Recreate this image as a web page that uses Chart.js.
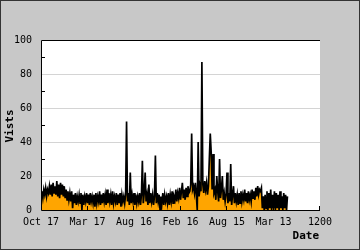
<!DOCTYPE html>
<html>
<head>
<meta charset="utf-8">
<script src="https://cdn.jsdelivr.net/npm/chart.js@4/dist/chart.umd.min.js"></script>
<style>
  html, body { margin: 0; padding: 0; background: #c8c8c8; }
  canvas { display: block; }
</style>
</head>
<body>
<canvas id="chart" width="360" height="250"></canvas>
<script>
// x axis ticks, every 200 entries
const tickLabels = ['Oct 17', 'Mar 17', 'Aug 16', 'Feb 16', 'Aug 15', 'Mar 13', '1200'];
const step = 4; // one value read per 4 entries

// visits
const visits = [
    8, 11, 7, 12, 9, 13, 8, 12, 10, 14,
    9, 15, 8, 16, 10, 14, 9, 17, 8, 15,
    7, 16, 9, 15, 8, 14, 7, 12, 6, 11,
    6, 10, 5, 11, 1, 9, 4, 10, 3, 8,
    5, 9, 4, 10, 0, 9, 3, 8, 5, 10,
    4, 9, 3, 10, 5, 8, 4, 9, 2, 10,
    4, 8, 5, 11, 3, 9, 4, 10, 5, 9,
    3, 12, 4, 10, 5, 9, 3, 11, 4, 8,
    5, 10, 3, 9, 4, 10, 2, 9, 5, 8,
    4, 9, 52, 5, 10, 3, 22, 4, 9, 5,
    10, 3, 9, 4, 8, 5, 10, 3, 9, 29,
    4, 10, 22, 5, 9, 3, 15, 4, 10, 5,
    9, 3, 8, 32, 4, 10, 5, 9, 0, 8,
    4, 10, 3, 9, 5, 8, 4, 10, 3, 9,
    5, 11, 4, 8, 6, 12, 5, 10, 7, 13,
    6, 11, 16, 7, 12, 6, 13, 8, 14, 10,
    11, 15, 45, 12, 14, 10, 16, 9, 0, 40,
    8, 14, 11, 87, 15, 10, 17, 12, 16, 9,
    14, 30, 45, 34, 12, 33, 10, 12, 6, 20,
    11, 5, 30, 7, 12, 20, 6, 10, 5, 9,
    22, 4, 10, 5, 27, 3, 9, 14, 4, 10,
    5, 9, 3, 10, 4, 11, 5, 9, 6, 12,
    5, 10, 4, 11, 6, 9, 5, 12, 7, 11,
    6, 13, 8, 14, 9, 12, 11, 13, 1, 8,
    0, 9, 1, 11, 0, 10, 1, 12, 0, 9,
    1, 11, 0, 10, 1, 9, 0, 11, 1, 8,
    0, 10, 1, 9, 0, 8
];

const mono = 'DejaVu Sans Mono';

// frame, inner tick marks and axis titles
const decor = {
    id: 'decor',
    beforeDraw(chart) {
        const { ctx, chartArea: a } = chart;
        ctx.save();
        ctx.fillStyle = '#c8c8c8';
        ctx.fillRect(0, 0, chart.width, chart.height);
        ctx.fillStyle = '#fff';
        ctx.fillRect(a.left, a.top, a.right - a.left, a.bottom - a.top);
        ctx.restore();
    },
    afterDraw(chart) {
        const { ctx, chartArea: a, scales } = chart;
        ctx.save();
        ctx.strokeStyle = '#000';
        ctx.lineWidth = 1;
        ctx.beginPath();
        ctx.moveTo(a.right, a.top + 0.5);
        ctx.lineTo(a.left + 0.5, a.top + 0.5);
        ctx.lineTo(a.left + 0.5, a.bottom + 0.5);
        ctx.lineTo(a.right, a.bottom + 0.5);
        // minor y ticks
        for (let v = 10; v < 100; v += 20) {
            const y = Math.round(scales.y.getPixelForValue(v)) + 0.5;
            ctx.moveTo(a.left, y);
            ctx.lineTo(a.left + 4, y);
        }
        // x ticks
        for (let v = 200; v <= 1200; v += 200) {
            const x = Math.round(scales.x.getPixelForValue(v)) - 0.5;
            ctx.moveTo(x, a.bottom);
            ctx.lineTo(x, a.bottom - 4);
        }
        ctx.stroke();

        // outer border
        ctx.strokeStyle = '#333';
        ctx.strokeRect(0.5, 0.5, chart.width - 1, chart.height - 1);

        ctx.fillStyle = '#000';
        ctx.font = 'bold 11px ' + mono;
        ctx.textAlign = 'right';
        ctx.textBaseline = 'middle';
        ctx.fillText('Date', 319, 236);
        ctx.translate(10, 126);
        ctx.rotate(-Math.PI / 2);
        ctx.textAlign = 'center';
        ctx.fillText('Vists', 0, 0);
        ctx.restore();
    }
};

new Chart(document.getElementById('chart'), {
    type: 'line',
    data: {
        datasets: [{
            data: visits.map((v, i) => ({ x: i * step, y: v })),
            borderColor: '#000',
            borderWidth: 1.7,
            backgroundColor: '#ffa500',
            fill: 'origin',
            pointRadius: 0,
            tension: 0
        }]
    },
    options: {
        responsive: false,
        animation: false,
        layout: { padding: { top: 40, right: 40, left: 0, bottom: 0 } },
        plugins: { legend: { display: false }, tooltip: { enabled: false } },
        scales: {
            x: {
                type: 'linear',
                min: 0,
                max: 1200,
                afterFit: s => { s.height = 40; },
                grid: { display: false, drawTicks: false, tickLength: 0 },
                border: { display: false },
                ticks: {
                    stepSize: 200,
                    autoSkip: false,
                    maxRotation: 0,
                    padding: 6,
                    color: '#000',
                    font: { family: mono, size: 10 },
                    callback: (v, i) => tickLabels[i]
                }
            },
            y: {
                min: 0,
                max: 100,
                afterFit: s => { s.width = 41; },
                border: { display: false },
                grid: {
                    drawTicks: false,
                    color: ctx => (ctx.tick.value === 0 || ctx.tick.value === 100) ? 'rgba(0,0,0,0)' : '#d4d4d4'
                },
                ticks: {
                    stepSize: 20,
                    padding: 9,
                    color: '#000',
                    font: { family: mono, size: 10 }
                }
            }
        }
    },
    plugins: [decor]
});
</script>
</body>
</html>
